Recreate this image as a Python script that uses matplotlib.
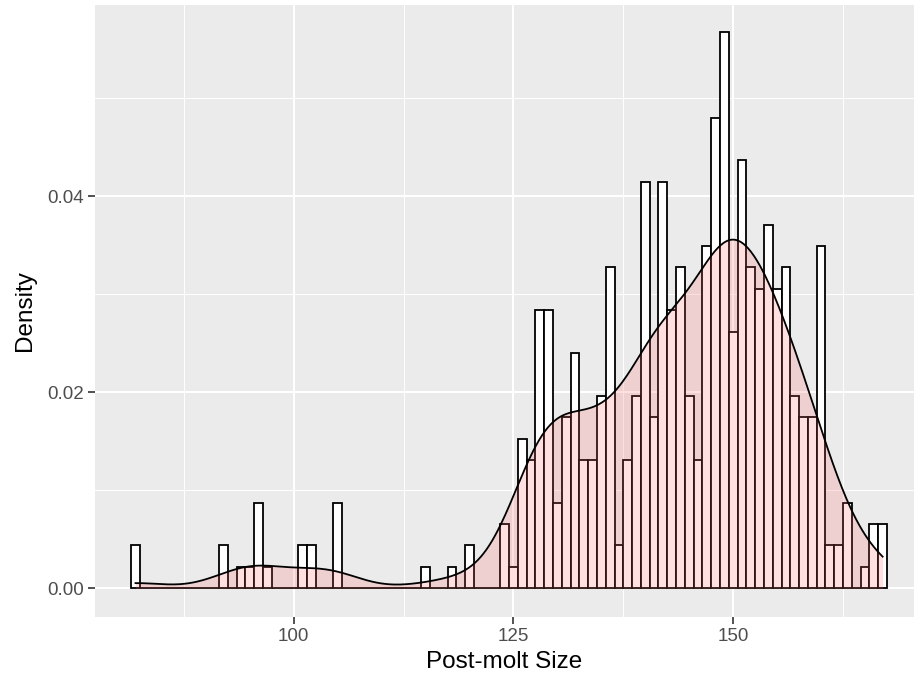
import numpy as np
import matplotlib.pyplot as plt

# histogram of post-molt size, binwidth 1 (counts per bin)
bins = np.arange(82, 168)
counts = np.array([
    2, 0, 0, 0, 0, 0, 0, 0, 0, 0,      # 82-91
    2, 0, 1, 1, 4, 1, 0, 0, 0, 2,      # 92-101
    2, 0, 0, 4, 0, 0, 0, 0, 0, 0,      # 102-111
    0, 0, 0, 1, 0, 0, 1, 0, 2, 0,      # 112-121
    0, 0, 3, 1, 7, 6, 13, 13, 4, 8,    # 122-131
    11, 6, 6, 9, 15, 2, 6, 9, 19, 8,   # 132-141
    19, 13, 15, 9, 6, 16, 22, 26, 12, 20,  # 142-151
    15, 14, 17, 14, 15, 9, 8, 8, 16, 2,    # 152-161
    2, 4, 0, 1, 3, 3,                  # 162-167
])
xticks = [100, 125, 150]
yticks = [0.00, 0.02, 0.04]
ytick_labels = ['0.00', '0.02', '0.04']

n = counts.sum()
density = counts / n

# kernel density like R's density() (gaussian, bw.nrd0)
data = np.repeat(bins.astype(float), counts)
q75, q25 = np.percentile(data, [75, 25])
bw = 0.9 * min(data.std(ddof=1), (q75 - q25) / 1.34) * n ** -0.2
xs = np.linspace(data.min(), data.max(), 512)
kde = np.exp(-0.5 * ((xs[:, None] - data[None, :]) / bw) ** 2).sum(axis=1)
kde = kde / (n * bw * np.sqrt(2 * np.pi))

plt.rcParams['font.family'] = ['Liberation Sans', 'DejaVu Sans']

fig = plt.figure(figsize=(9.14, 6.76), dpi=100)
ax = fig.add_axes([95 / 914, 59 / 676, 819 / 914, 612 / 676])
ax.set_facecolor('#EBEBEB')

ax.bar(bins, density, width=1, color='white', edgecolor='black', linewidth=1.3, zorder=2)
ax.fill_between(xs, 0, kde, color='#FF6666', alpha=0.2, linewidth=0, zorder=3)
ax.plot(xs, kde, color='black', linewidth=1.3, zorder=4)

ax.set_xlim(77.39, 170.57)
ax.set_ylim(-0.00293, 0.05952)
ax.set_xticks(xticks)
ax.set_yticks(yticks)
ax.set_yticklabels(ytick_labels)
ax.set_xticks([87.5, 112.5, 137.5, 162.5], minor=True)
ax.set_yticks([0.01, 0.03, 0.05], minor=True)
ax.grid(which='major', color='white', linewidth=1.5, zorder=0)
ax.grid(which='minor', color='white', linewidth=0.7, zorder=0)
ax.set_axisbelow(True)
ax.tick_params(which='major', length=5, width=1.2, color='#333333',
               labelcolor='#4D4D4D', labelsize=13.5, pad=3)
ax.tick_params(which='minor', length=0)
for s in ax.spines.values():
    s.set_visible(False)

ax.set_xlabel('Post-molt Size', fontsize=17.5, color='black', labelpad=4)
ax.set_ylabel('Density', fontsize=17.5, color='black', labelpad=8)

plt.savefig('out.png', dpi=100)
